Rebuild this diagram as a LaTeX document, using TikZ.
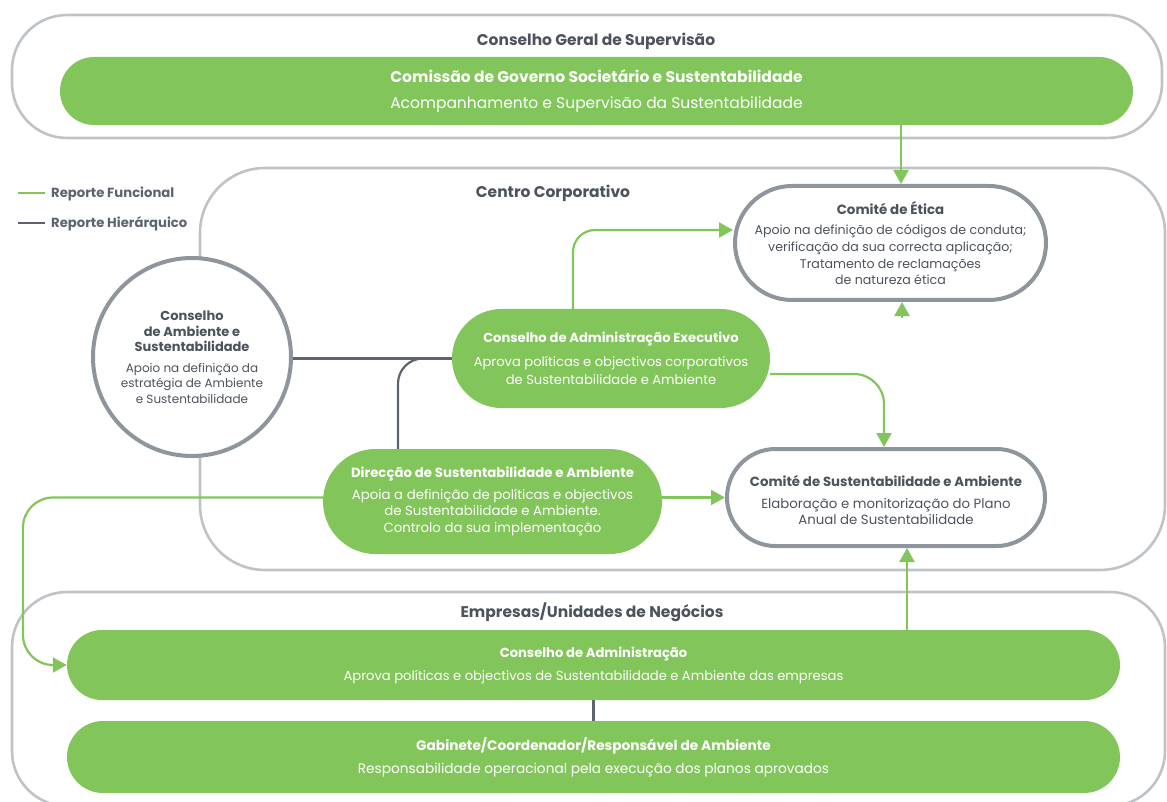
\documentclass[tikz,border=0pt]{standalone}
\usepackage{fontspec}
\setmainfont{Poppins}
\usetikzlibrary{positioning,shapes.misc,arrows.meta}
\definecolor{leaf}{HTML}{82C55B}
\definecolor{framegray}{HTML}{BEC3C8}
\definecolor{pillgray}{HTML}{8E959D}
\definecolor{slate}{HTML}{5D6470}
\definecolor{ink}{HTML}{4D535C}
\newcommand{\pilltext}[2]{\textbf{#1}\\[5pt]#2}

\begin{document}
\begin{tikzpicture}[x=1pt, y=-1pt,
  font=\fontsize{13.3}{16.5}\selectfont,
  frame/.style={draw=framegray, line width=2.6pt, inner sep=0pt},
  frametitle/.style={text=ink, font=\fontsize{15.5}{18}\selectfont\bfseries, inner sep=0pt},
  greenpill/.style={rounded rectangle, fill=leaf, text=white, align=center, inner sep=0pt},
  greypill/.style={rounded rectangle, draw=pillgray, line width=4pt, fill=white,
                   text=ink, align=center, inner sep=0pt},
  legtext/.style={text=slate, font=\fontsize{13.2}{15}\selectfont\bfseries, anchor=west, inner sep=0pt},
  func/.style={leaf, line width=2.2pt, -{Triangle[length=14pt, width=15pt]}},
  funcline/.style={leaf, line width=2.2pt},
  hier/.style={slate, line width=2.2pt}
]
  \useasboundingbox (0,0) rectangle (1167,802);
  \clip (0,0) rectangle (1167,802);

  % containers
  \node[frame, rounded corners=55pt, minimum width=1150pt, minimum height=123pt] (cgs) at (587,76.5) {};
  \node[frame, rounded corners=65pt, minimum width=965pt, minimum height=402pt] (cc) at (682.5,369) {};
  \node[frame, rounded corners=55pt, minimum width=1153pt, minimum height=214pt] (eun) at (588.5,699) {};

  \node[frametitle] (cgs-t) at (596,41) {Conselho Geral de Supervisão};
  \node[frametitle] (cc-t) at (553,193) {Centro Corporativo};
  \node[frametitle] (eun-t) at (592,612) {Empresas/Unidades de Negócios};

  % legend
  \node[legtext] (leg-f) at (51,194) {Reporte Funcional};
  \node[legtext] (leg-h) at (51,224) {Reporte Hierárquico};
  \coordinate (leg-f0) at (18,193);
  \coordinate (leg-h0) at (18,223);
  \draw[funcline] (leg-f0) -- ([xshift=-6pt]leg-f.west |- leg-f0);
  \draw[hier] (leg-h0) -- ([xshift=-6pt]leg-h.west |- leg-h0);

  % bodies
  \node[greenpill, minimum width=1073pt, minimum height=68pt,
        font=\fontsize{15.5}{20}\selectfont] (cgss) at (596.5,91)
       {\textbf{Comissão de Governo Societário e Sustentabilidade}\\[6pt]Acompanhamento e Supervisão da Sustentabilidade};

  \node[circle, draw=pillgray, line width=4pt, fill=white, text=ink, align=center,
        minimum size=198pt, inner sep=0pt, font=\fontsize{12}{15.5}\selectfont] (cas) at (192,357)
       {\textbf{\fontsize{13}{16.5}\selectfont Conselho}\\\textbf{\fontsize{13}{16.5}\selectfont de Ambiente e}\\\textbf{\fontsize{13}{16.5}\selectfont Sustentabilidade}\\[5pt]Apoio na definição da\\estratégia de Ambiente\\e Sustentabilidade};

  \node[greypill, minimum width=311pt, minimum height=114pt,
        font=\fontsize{12.6}{16.7}\selectfont] (etica) at (890.5,243)
       {\textbf{\fontsize{13.4}{16.7}\selectfont Comité de Ética}\\[4pt]Apoio na definição de códigos de conduta;\\verificação da sua correcta aplicação;\\Tratamento de reclamações\\de natureza ética};

  \node[greenpill, minimum width=318pt, minimum height=99pt,
        font=\fontsize{13.1}{18.5}\selectfont] (cae) at (611,358.5)
       {\pilltext{Conselho de Administração Executivo}{Aprova políticas e objectivos corporativos\\de Sustentabilidade e Ambiente}};

  \node[greenpill, minimum width=339pt, minimum height=105pt] (dsa) at (492.5,501.5)
       {\pilltext{Direcção de Sustentabilidade e Ambiente}{Apoia a definição de políticas e objectivos\\de Sustentabilidade e Ambiente.\\Controlo da sua implementação}};

  \node[greypill, minimum width=318pt, minimum height=97pt] (csa) at (886,497.5)
       {\rule{0pt}{17pt}\pilltext{Comité de Sustentabilidade e Ambiente}{Elaboração e monitorização do Plano\\Anual de Sustentabilidade}};

  \node[greenpill, minimum width=1053pt, minimum height=70pt,
        font=\fontsize{13.1}{18}\selectfont] (ca) at (593.5,665)
       {\pilltext{Conselho de Administração}{Aprova políticas e objectivos de Sustentabilidade e Ambiente das empresas}};

  \node[greenpill, minimum width=1053pt, minimum height=72pt,
        font=\fontsize{13.7}{18}\selectfont] (gab) at (593.5,757)
       {\pilltext{Gabinete/Coordenador/Responsável de Ambiente}{Responsabilidade operacional pela execução dos planos aprovados}};

  % functional reporting
  \coordinate (lx) at (23,0);
  \draw[func] ([xshift=10.5pt]etica.north |- cgss.south) -- ([xshift=10.5pt]etica.north);
  \draw[func, rounded corners=22pt] ([xshift=-38pt]cae.north) |- ([yshift=13pt]etica.west);
  \draw[func, rounded corners=30pt] ([yshift=-15.5pt]cae.east) -| ([xshift=-2pt]csa.north);
  \draw[func] (dsa.east |- csa.west) -- (csa.west);
  \draw[func, rounded corners=30pt] (dsa.west |- csa.west) -| (ca.west -| lx) -- (ca.west);
  \draw[func] ([xshift=313.5pt]ca.north) -- ([xshift=313.5pt]ca.north |- csa.south);
  \draw[func] ([xshift=11.5pt,yshift=-16pt]etica.south) -- ([xshift=11.5pt]etica.south);

  % hierarchical reporting
  \draw[hier] (cas.east |- cae.west) -- (cae.west);
  \draw[hier, rounded corners=25pt] ([xshift=-94.5pt]dsa.north) |- (cae.west);
  \draw[hier] (ca.south) -- (gab.north);
\end{tikzpicture}
\end{document}
